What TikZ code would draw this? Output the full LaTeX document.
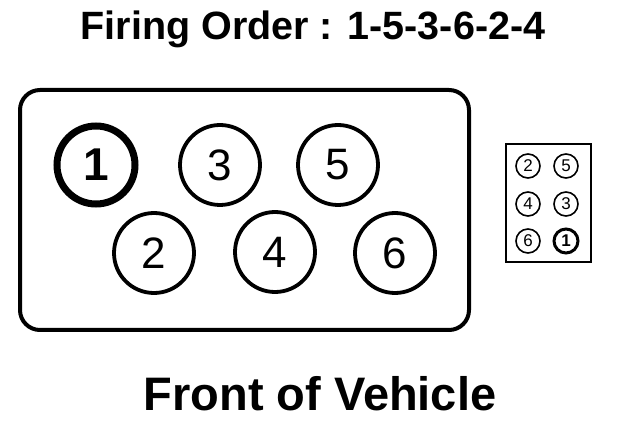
\documentclass[tikz,border=0pt]{standalone}
\usepackage{fontspec}
\setmainfont{Liberation Sans}
\begin{document}
\begin{tikzpicture}[x=1pt,y=-1pt,
  cyl/.style={circle,draw,line width=3.8pt,minimum size=80pt,inner sep=0pt,font=\fontsize{44}{44}\selectfont},
  cylone/.style={cyl,line width=7pt,minimum size=78pt,font=\bfseries\fontsize{46}{46}\selectfont},
  scyl/.style={circle,draw,line width=1.6pt,minimum size=24pt,inner sep=0pt,font=\fontsize{17}{17}\selectfont},
  scylone/.style={scyl,line width=3pt,font=\bfseries\fontsize{17}{17}\selectfont},
  title/.style={font=\bfseries\fontsize{39.5}{40}\selectfont,anchor=base}]
\useasboundingbox (0,0) rectangle (640,438);
\fill[white] (0,0) rectangle (640,438);
\node[title] (t) at (313,40) {Firing Order : 1-5-3-6-2-4};
\draw[line width=4pt,rounded corners=20pt] (20,90) rectangle (469,330);
\node[cylone] (c1) at (96,165) {1};
\node[cyl] (c3) at (220,165) {3};
\node[cyl] (c5) at (338,165) {5};
\node[cyl] (c2) at (154,253) {2};
\node[cyl] (c4) at (275,252) {4};
\node[cyl] (c6) at (395,253) {6};
\draw[line width=2pt] (506,144) rectangle (591,262);
\node[scyl] (s2) at (528,166) {2};
\node[scyl] (s5) at (566,166) {5};
\node[scyl] (s4) at (528,204) {4};
\node[scyl] (s3) at (566,204) {3};
\node[scyl] (s6) at (528,241) {6};
\node[scylone] (s1) at (566,241) {1};
\node[font=\bfseries\fontsize{47}{50}\selectfont,anchor=base] (f) at (320,410) {Front of Vehicle};
\end{tikzpicture}
\end{document}
